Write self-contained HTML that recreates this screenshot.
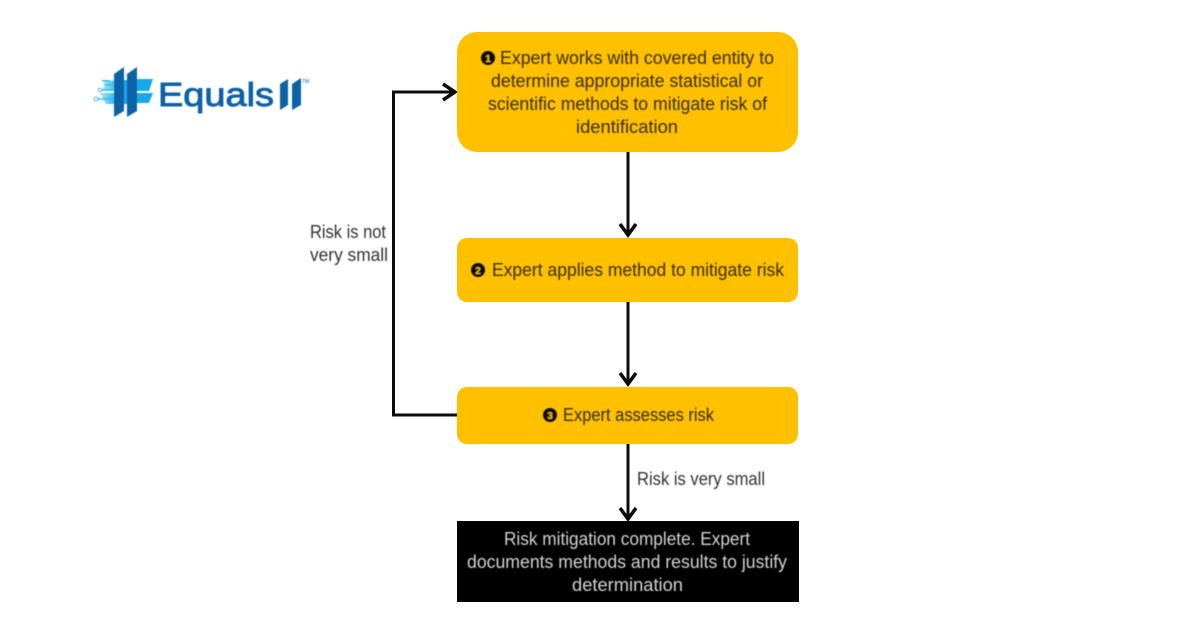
<!DOCTYPE html>
<html>
<head>
<meta charset="utf-8">
<style>
html,body{margin:0;padding:0;background:#fff;width:1200px;height:628px;overflow:hidden}
svg{display:block}
text{font-family:"Liberation Sans",sans-serif}
</style>
</head>
<body>
<svg width="1200" height="628" viewBox="0 0 1200 628" xmlns="http://www.w3.org/2000/svg">
<defs>
<linearGradient id="g" x1="0" x2="1" y1="0" y2="0"><stop offset="0" stop-color="#a5e8f8"/><stop offset="0.6" stop-color="#25b5ee"/><stop offset="1" stop-color="#12a5e6"/></linearGradient>
<filter id="b"><feGaussianBlur stdDeviation="0.45"/></filter>
</defs>

<!-- logo -->
<g filter="url(#b)">
<polygon points="104,81 127,80 127,91 103,91" fill="url(#g)"/>
<polygon points="100,93 127,93 127,104 106,104" fill="url(#g)"/>
<rect x="124" y="80" width="4" height="24" fill="#12a5e6"/>
<polygon points="137,79 153,79 149,91 137,91" fill="#14a8e8"/>
<polygon points="137,93 153,93 149,103 137,103" fill="#14a8e8"/>
<polygon points="114,74 124,67 124,111 114,117" fill="#0a62a6"/>
<polygon points="127,74 137,67 137,111 127,117" fill="#0a62a6"/>
<rect x="102" y="80" width="8" height="1.500" fill="#35bdea"/>
<rect x="105" y="84" width="8" height="1.500" fill="#35bdea"/>
<path d="M101 90H112M97 99H112" stroke="#35bdea" stroke-width="1.500"/>
<circle cx="100" cy="90" r="1.800" fill="#fff" stroke="#25aee6"/>
<circle cx="96" cy="99" r="1.800" fill="#fff" stroke="#25aee6"/>
<text x="158" y="106" font-size="33" fill="#0a62a6" stroke="#0a62a6" stroke-width="0.900" textLength="116" lengthAdjust="spacingAndGlyphs">Equals</text>
<polygon points="280,84 288,79 288,105 280,110" fill="#0a62a6"/>
<polygon points="292,84 301,78 301,105 292,110" fill="#0a62a6"/>
<text x="302" y="83" font-size="5" fill="#0a62a6">TM</text>
</g>

<!-- connectors -->
<g fill="none" stroke="#0c0c0c" stroke-width="3">
<path d="M628 152V235"/><path d="M620 224L628 235L636 224" stroke-width="3.500"/>
<path d="M628 302V384"/><path d="M620 373L628 384L636 373" stroke-width="3.500"/>
<path d="M628 444V519"/><path d="M620 508L628 519L636 508" stroke-width="3.500"/>
<path d="M457 415H393.500V92H455"/><path d="M443 84L455 92L443 100" stroke-width="3.500"/>
</g>

<!-- boxes -->
<rect x="457" y="32" width="341" height="120" rx="20" fill="#ffc000"/>
<rect x="457" y="238" width="341" height="64" rx="10" fill="#ffc000"/>
<rect x="457" y="387" width="341" height="57" rx="10" fill="#ffc000"/>
<rect x="457" y="521" width="342" height="81" fill="#000"/>

<g filter="url(#b)">
<g font-size="18.500" fill="#3a2e08">
<text x="500" y="64" textLength="274" lengthAdjust="spacingAndGlyphs">Expert works with covered entity to</text>
<text x="491" y="87" textLength="272" lengthAdjust="spacingAndGlyphs">determine appropriate statistical or</text>
<text x="488" y="110" textLength="279" lengthAdjust="spacingAndGlyphs">scientific methods to mitigate risk of</text>
<text x="576" y="133" textLength="102" lengthAdjust="spacingAndGlyphs">identification</text>
<text x="492" y="276" textLength="292" lengthAdjust="spacingAndGlyphs">Expert applies method to mitigate risk</text>
<text x="563" y="421" textLength="151" lengthAdjust="spacingAndGlyphs">Expert assesses risk</text>
</g>
<circle cx="488" cy="58" r="7" fill="#111"/>
<text x="488" y="62" font-size="10" font-weight="bold" fill="#ffc000" text-anchor="middle">1</text>
<circle cx="478" cy="270" r="7" fill="#111"/>
<text x="478" y="274" font-size="10" font-weight="bold" fill="#ffc000" text-anchor="middle">2</text>
<circle cx="550" cy="415" r="7" fill="#111"/>
<text x="550" y="419" font-size="10" font-weight="bold" fill="#ffc000" text-anchor="middle">3</text>

<g font-size="18.500" fill="#d2d2d2">
<text x="504" y="545" textLength="246" lengthAdjust="spacingAndGlyphs">Risk mitigation complete. Expert</text>
<text x="467" y="568" textLength="320" lengthAdjust="spacingAndGlyphs">documents methods and results to justify</text>
<text x="572" y="591" textLength="111" lengthAdjust="spacingAndGlyphs">determination</text>
</g>
<g font-size="18.500" fill="#333">
<text x="637" y="485" textLength="128" lengthAdjust="spacingAndGlyphs">Risk is very small</text>
<text x="310" y="238" textLength="76" lengthAdjust="spacingAndGlyphs">Risk is not</text>
<text x="310" y="261" textLength="78" lengthAdjust="spacingAndGlyphs">very small</text>
</g>
</g>
</svg>
</body>
</html>
